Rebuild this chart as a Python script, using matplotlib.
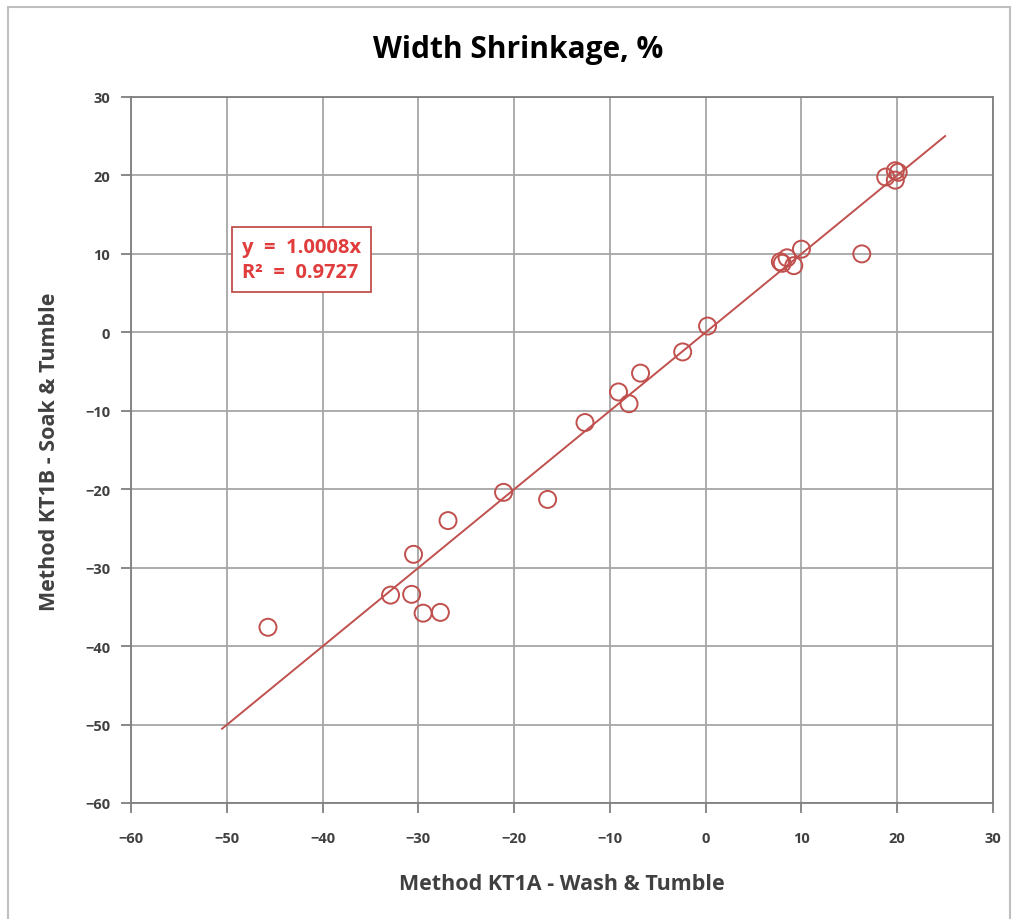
import matplotlib
matplotlib.use("Agg")
import matplotlib.pyplot as plt
from matplotlib.patches import Rectangle
import numpy as np

# Data
kt1a = [-45.7, -32.9, -30.7, -30.5, -29.5, -27.7, -26.9, -21.1, -16.5, -12.6,
        -9.1, -8.0, -6.8, -2.4, 0.2, 8.0, 8.5, 9.2, 7.8, 10.0, 16.3,
        18.8, 19.8, 19.8, 20.1]
kt1b = [-37.6, -33.5, -33.4, -28.3, -35.8, -35.7, -24.0, -20.4, -21.3, -11.5,
        -7.6, -9.1, -5.2, -2.5, 0.8, 8.8, 9.5, 8.5, 9.0, 10.6, 10.0,
        19.8, 20.6, 19.4, 20.4]
slope = 1.0008
r2 = 0.9727
fit_range = [-50.5, 25.0]
x_ticks = list(range(-60, 31, 10))
y_ticks = list(range(-60, 31, 10))

title = "Width Shrinkage, %"
xlabel = "Method KT1A - Wash & Tumble"
ylabel = "Method KT1B - Soak & Tumble"

plt.rcParams['font.family'] = ['Open Sans', 'DejaVu Sans']
red = '#C0504D'

fig = plt.figure(figsize=(10.15, 9.2), dpi=100)
fig.patch.set_facecolor('white')
# outer chart border
fig.patches.append(Rectangle((8/1015, -0.05), 1002/1015, (920-8)/920 + 0.05,
                             transform=fig.transFigure, fill=False,
                             edgecolor='#BFBFBF', linewidth=1.5))

ax = fig.add_axes([131/1015, (920-804)/920, (993-131)/1015, (804-98)/920])
ax.set_xlim(-60, 30)
ax.set_ylim(-60, 30)
ax.set_xticks(x_ticks)
ax.set_yticks(y_ticks)
ax.grid(True, color='#A6A6A6', linewidth=1.3)
ax.set_axisbelow(True)
for s in ax.spines.values():
    s.set_color('#7F7F7F')
    s.set_linewidth(1.3)
ax.tick_params(direction='out', length=7, width=1.3, color='#7F7F7F',
               labelsize=10.5, labelcolor='#404040')
ax.tick_params(axis='x', pad=13)
ax.tick_params(axis='y', pad=8)
for lab in ax.get_xticklabels() + ax.get_yticklabels():
    lab.set_fontweight('bold')

fx = np.array(fit_range)
ax.plot(fx, slope * fx, color=red, linewidth=1.4, zorder=2)
ax.scatter(kt1a, kt1b, s=150, facecolors='none', edgecolors=red,
           linewidths=1.4, zorder=3)

ax.text(-48.4, 9.3, f"y  =  {slope:.4f}x\nR\u00b2  =  {r2:.4f}",
        color='#E03C3C', fontsize=14.5, fontweight='bold', va='center', ha='left',
        linespacing=1.3,
        bbox=dict(boxstyle='square,pad=0.5', facecolor='white', edgecolor=red,
                  linewidth=1.3), zorder=4)

fig.text(518/1015, 1 - 50/920, title, ha='center', va='center',
         fontsize=21.5, fontweight='bold', color='black')
fig.text(562/1015, 1 - 885/920, xlabel, ha='center', va='center',
         fontsize=15.5, fontweight='bold', color='#404040')
fig.text(50/1015, 1 - 452/920, ylabel, ha='center', va='center',
         fontsize=15.5, fontweight='bold', color='#404040', rotation=90)

fig.savefig('out.png', dpi=100)
